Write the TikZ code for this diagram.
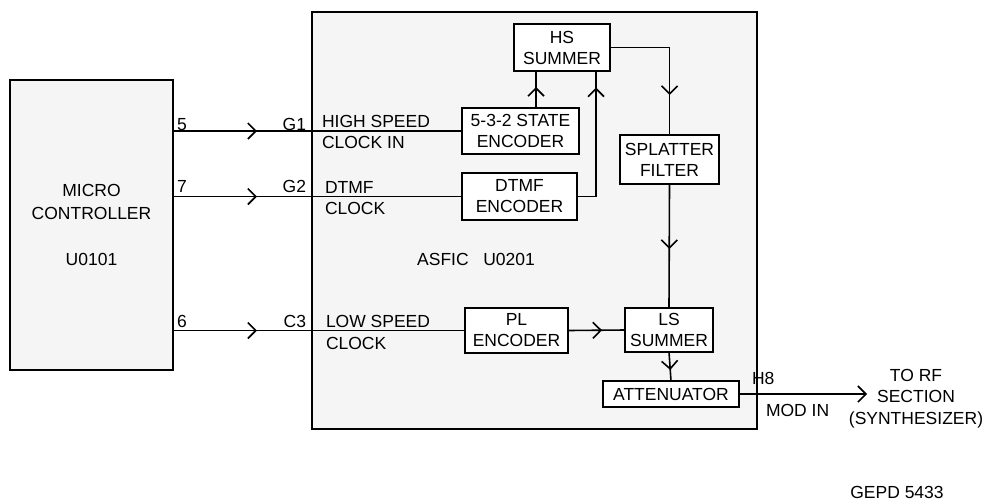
\documentclass[tikz,border=0pt]{standalone}
\usepackage{fontspec}
\setmainfont{Liberation Sans}
\usetikzlibrary{arrows.meta,decorations.markings}
\definecolor{boxgrey}{HTML}{F5F5F5}
\tikzset{
  chev/.tip={Straight Barb[length=8pt,width=16pt,line width=1.6pt]},
  arrowat/.style={postaction={decorate}, decoration={markings, mark=at position #1 with {\arrow{chev}}}}
}
\begin{document}
\begin{tikzpicture}[x=1pt,y=-1pt,
  every node/.style={font=\fontsize{17.5}{21}\selectfont, inner sep=0pt, outer sep=0pt},
  bigbox/.style={draw, line width=2pt, fill=boxgrey},
  blk/.style={draw, line width=2pt, fill=white, align=center},
  conn/.style={line width=1.6pt},
  lbl/.style={anchor=base west},
  lble/.style={anchor=base east}
]
\useasboundingbox (0,0) rectangle (987,501);

% big boxes
\node[bigbox, minimum width=163pt, minimum height=290pt, align=center,
      font=\fontsize{17.5}{23}\selectfont] (mc) at (91.5,225) {MICRO\\CONTROLLER\\[23pt]U0101};
\node[bigbox, minimum width=445pt, minimum height=417pt] (asfic) at (534.5,220.5) {};

% inner blocks
\node[blk, minimum width=117pt, minimum height=46pt] (enc) at (520.5,131) {5-3-2 STATE\\ENCODER};
\node[blk, minimum width=96pt, minimum height=47pt] (hs) at (562,47.5) {HS\\SUMMER};
\node[blk, minimum width=115pt, minimum height=47pt] (dtmf) at (519.5,196.5) {DTMF\\ENCODER};
\node[blk, minimum width=99pt, minimum height=49pt] (spl) at (669.5,159.5) {SPLATTER\\FILTER};
\node[blk, minimum width=103pt, minimum height=45pt] (pl) at (516.5,330.5) {PL\\ENCODER};
\node[blk, minimum width=88pt, minimum height=44pt] (ls) at (669,330) {LS\\SUMMER};
\node[blk, minimum width=136pt, minimum height=26pt] (att) at (671,394) {ATTENUATOR};

\coordinate (rf) at (867,394);

% connectors
\draw[conn, arrowat=84pt] (mc.east |- enc.west) -- (enc.west);
\draw[conn, arrowat=84pt] (mc.east |- dtmf.west) -- (dtmf.west);
\draw[conn, arrowat=84pt] (mc.east |- pl.west) -- (pl.west);
\draw[conn, arrowat=21pt] ([xshift=15.5pt]enc.north) -- ([xshift=15.5pt]enc.north |- hs.south);
\draw[conn, arrowat=128pt] (dtmf.east) -| ([xshift=34pt]hs.south);
\draw[conn, arrowat=107pt] (hs.east) -| (spl.north);
\draw[conn, arrowat=65pt] (spl.south) -- (ls.north);
\draw[conn, arrowat=34pt] (pl.east) -- (ls.west);
\draw[conn, arrowat=18pt] (ls.south) -- (att.north);
\draw[conn, -{chev}] (att.east) -- (rf);

% labels
\node[lbl] (p5) at (177,130) {5};
\node[lbl] (p7) at (177,192) {7};
\node[lbl] (p6) at (177,327) {6};
\node[lble] (g1) at (306,130) {G1};
\node[lble] (g2) at (306,192) {G2};
\node[lble] (c3) at (306,327) {C3};
\node[lbl] (hs1) at (322,127) {HIGH SPEED};
\node[lbl] (hs2) at (322,148) {CLOCK IN};
\node[lbl] (dt1) at (325,193) {DTMF};
\node[lbl] (dt2) at (325,214) {CLOCK};
\node[lbl] (ls1) at (326,327) {LOW SPEED};
\node[lbl] (ls2) at (326,349) {CLOCK};
\node[anchor=base] (asname) at (476,265) {ASFIC\ \ \ U0201};
\node[lbl] (h8) at (752,384) {H8};
\node[lbl] (modin) at (766,416) {MOD IN};
\node[anchor=base] (to1) at (916,381) {TO RF};
\node[anchor=base] (to2) at (916,402) {SECTION};
\node[anchor=base] (to3) at (916,424) {(SYNTHESIZER)};
\node[anchor=base] (gepd) at (897,498) {GEPD 5433};
\end{tikzpicture}
\end{document}
